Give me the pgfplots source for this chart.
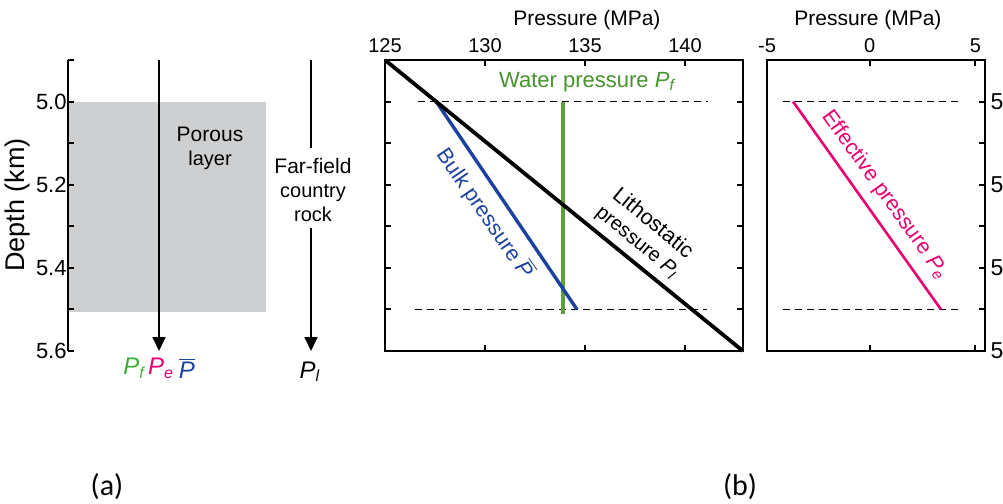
\documentclass[border=0pt]{standalone}
\usepackage{fontspec}
\setmainfont{Liberation Sans}
\newfontfamily\calibri{Carlito}
\usepackage{pgfplots}
\pgfplotsset{compat=1.18}
\usetikzlibrary{arrows.meta}
\definecolor{pgray}{RGB}{205,207,209}
\definecolor{wgreen}{RGB}{70,148,46}
\definecolor{lgreenline}{RGB}{96,160,60}
\definecolor{lgreen}{RGB}{60,176,52}
\definecolor{bblue}{RGB}{28,66,160}
\definecolor{epink}{RGB}{232,0,112}
\newcommand{\fs}[1]{\fontsize{#1}{#1}\selectfont}
\pgfplotsset{
  myax/.style={
    scale only axis, anchor=north west,
    ymin=4.9, ymax=5.6, y dir=reverse,
    tick align=inside, major tick length=3pt,
    axis line style={line width=1pt},
    every tick/.style={line width=1pt, black},
    clip=false, axis on top,
  }
}
\begin{document}
\begin{tikzpicture}[x=0.5pt,y=-0.5pt]
\useasboundingbox (0,0) rectangle (1003,504);

% ---------------- panel (a)
\begin{axis}[myax,
  at={(34pt,-30pt)}, width=131pt, height=145.5pt,
  xmin=68, xmax=330,
  axis y line*=left, hide x axis,
  ytick={4.9,5.0,5.1,5.2,5.3,5.4,5.5,5.6},
  yticklabels={,5.0,,5.2,,5.4,,5.6},
  yticklabel style={font=\fs{11}, inner sep=0.5pt},
]
\fill[pgray] (axis cs:68,5.0) rectangle (axis cs:266,5.506);
\draw[line width=1pt,-{Triangle[length=7pt,width=6.5pt]}] (axis cs:159,4.9) -- (axis cs:159,5.6);
\draw[line width=1pt] (axis cs:311,4.9) -- (axis cs:311,5.112);
\draw[line width=1pt,-{Triangle[length=7pt,width=6.5pt]}] (axis cs:311,5.304) -- (axis cs:311,5.6);
\node[align=center] at (axis cs:210,5.112) {\fontsize{10.5}{13.5}\selectfont Porous\\layer};
\node[align=center] at (axis cs:313,5.213) {\fontsize{10.5}{12.8}\selectfont Far-field\\country\\rock};
\node[font=\fs{12}, text=lgreen] at (axis cs:134,5.641) {\itshape P\textsubscript{f}};
\node[font=\fs{12}, text=epink] at (axis cs:161,5.641) {\itshape P\textsubscript{e}};
\node[font=\fs{12}, text=bblue] at (axis cs:187,5.641) {$\overline{\hbox{\itshape P}}$};
\node[font=\fs{12}] at (axis cs:310,5.65) {\itshape P\textsubscript{l}};
\end{axis}

% ---------------- panel (b) main
\begin{axis}[myax,
  at={(192.5pt,-30pt)}, width=179pt, height=145.5pt,
  xmin=125, xmax=142.9,
  xtick={125,130,135,140}, xticklabels={125,130,135,140},
  xticklabel pos=right,
  xticklabel style={font=\fs{10}},
  ytick={5.0,5.1,5.2,5.3,5.4,5.5}, yticklabels={},
]
\addplot[black, line width=0.7pt, dash pattern=on 3.5pt off 2.5pt] coordinates {(126.65,5.0) (141.15,5.0)};
\addplot[black, line width=0.7pt, dash pattern=on 3.5pt off 2.5pt] coordinates {(126.5,5.5) (141.1,5.5)};
\addplot[lgreenline, line width=2.2pt] coordinates {(133.9,5.0) (133.9,5.51)};
\addplot[bblue, line width=1.7pt] coordinates {(127.56,5.0) (134.6,5.5)};
\addplot[black, line width=1.9pt] coordinates {(125,4.9) (142.9,5.6)};
\node[font=\fs{11}, text=wgreen] at (axis cs:135.1,4.953) {Water pressure \textit{P}\textsubscript{\itshape f}};
\node[font=\fs{10.8}, text=bblue, rotate=-55.4] at (axis cs:130.0,5.268) {Bulk pressure $\overline{\hbox{\itshape P}}$};
\node[align=center, rotate=-39.5] at (axis cs:138.0,5.316) {\fontsize{10.8}{13}\selectfont Lithostatic\\pressure \textit{P}\textsubscript{\itshape l}};
\end{axis}

% ---------------- panel (b) right
\begin{axis}[myax,
  at={(383.5pt,-30pt)}, width=109pt, height=145.5pt,
  xmin=-4.85, xmax=5.45,
  xtick={-4.85,0,5}, xticklabels={-5,0,5},
  xticklabel pos=right,
  xticklabel style={font=\fs{10}},
  ytick={4.9,5.0,5.1,5.2,5.3,5.4,5.5,5.6},
  yticklabels={,5,,5,,5,,5},
  ytick pos=right, yticklabel pos=right,
  yticklabel style={font=\fs{11.5}, inner sep=0pt, xshift=2.6pt},
]
\addplot[black, line width=0.7pt, dash pattern=on 3.5pt off 2.5pt] coordinates {(-4.09,5.0) (4.27,5.0)};
\addplot[black, line width=0.7pt, dash pattern=on 3.5pt off 2.5pt] coordinates {(-4.09,5.5) (4.17,5.5)};
\addplot[epink, line width=1.3pt] coordinates {(-3.62,5.0) (3.37,5.5)};
\node[font=\fs{10.8}, text=epink, rotate=-54.3] at (axis cs:0.72,5.225) {Effective pressure \textit{P}\textsubscript{\itshape e}};
\end{axis}

% ---------------- outer labels
\node[font=\fs{13.5}, rotate=90] at (18,205) {Depth (km)};
\node[font=\fs{10.5}] at (587,20) {Pressure (MPa)};
\node[font=\fs{10.5}] at (868,20) {Pressure (MPa)};
\node[font=\calibri\fs{15}] at (107,487) {(a)};
\node[font=\calibri\fs{15}] at (740,487) {(b)};
\end{tikzpicture}
\end{document}
